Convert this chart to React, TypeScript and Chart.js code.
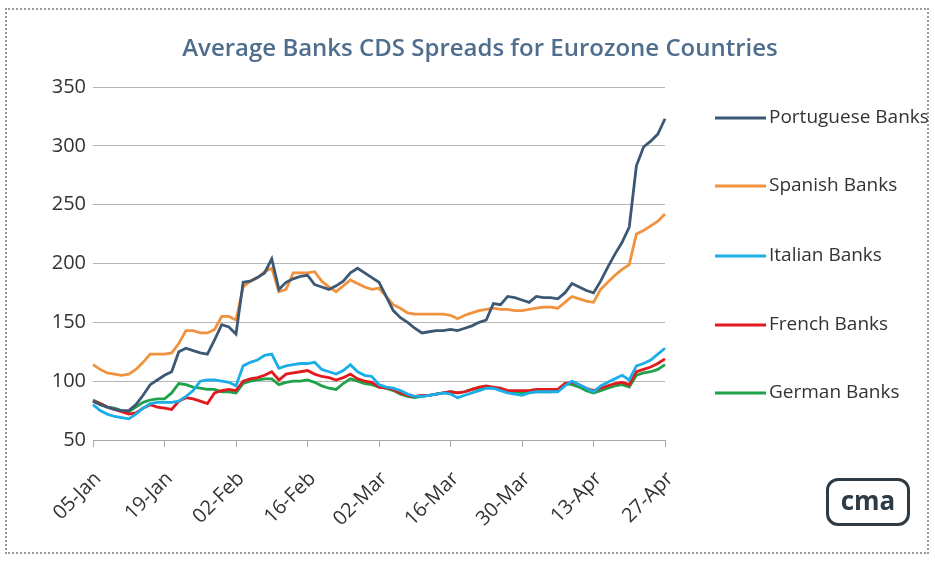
import React, { useEffect, useRef } from "react";
import { Chart, registerables } from "chart.js";

Chart.register(...registerables);

const TITLE = "Average Banks CDS Spreads for Eurozone Countries";
const SERIES_NAMES = ["Portuguese Banks", "Spanish Banks", "Italian Banks", "French Banks", "German Banks"];
const SERIES_COLORS = ["#3d5875", "#f0923e", "#1aaee8", "#e2191e", "#1fa24a"];
const TICK_LABELS = ["05-Jan", "19-Jan", "02-Feb", "16-Feb", "02-Mar", "16-Mar", "30-Mar", "13-Apr", "27-Apr"];
const Y_MIN = 50;
const Y_MAX = 350;
const Y_STEP = 50;

const PORTUGUESE = [
  83, 80, 78, 76, 75, 75, 80, 88, 97, 101,
  105, 108, 125, 128, 126, 124, 123, 135, 148, 146,
  140, 184, 185, 188, 192, 204, 178, 184, 187, 189,
  190, 182, 180, 178, 181, 185, 192, 196, 192, 188,
  184, 172, 160, 154, 150, 145, 141, 142, 143, 143,
  144, 143, 145, 147, 150, 152, 166, 165, 172, 171,
  169, 167, 172, 171, 171, 170, 175, 183, 180, 177,
  175, 185, 197, 208, 218, 231, 283, 299, 304, 310,
  323,
];
const SPANISH = [
  114, 110, 107, 106, 105, 106, 110, 116, 123, 123,
  123, 124, 132, 143, 143, 141, 141, 144, 155, 155,
  152, 180, 185, 188, 193, 196, 176, 178, 192, 192,
  192, 193, 185, 180, 176, 181, 186, 183, 180, 178,
  179, 172, 165, 162, 158, 157, 157, 157, 157, 157,
  156, 153, 156, 158, 160, 161, 162, 161, 161, 160,
  160, 161, 162, 163, 163, 162, 167, 172, 170, 168,
  167, 178, 184, 190, 195, 199, 225, 228, 232, 236,
  242,
];
const ITALIAN = [
  80, 75, 72, 70, 69, 68, 72, 77, 81, 82,
  82, 82, 83, 87, 92, 100, 101, 101, 100, 99,
  96, 113, 116, 118, 122, 123, 111, 113, 114, 115,
  115, 116, 110, 108, 106, 109, 114, 108, 105, 104,
  97, 95, 94, 92, 89, 87, 87, 88, 89, 90,
  89, 86, 88, 90, 92, 94, 94, 92, 90, 89,
  88, 90, 91, 91, 91, 91, 96, 100, 97, 94,
  91, 96, 99, 102, 105, 101, 113, 115, 118, 123,
  128,
];
const FRENCH = [
  83, 81, 78, 76, 74, 72, 73, 77, 80, 78,
  77, 76, 83, 86, 85, 83, 81, 90, 92, 93,
  92, 100, 102, 103, 105, 108, 101, 106, 107, 108,
  109, 106, 104, 103, 101, 103, 106, 102, 100, 99,
  95, 94, 93, 90, 88, 87, 88, 88, 89, 90,
  91, 90, 91, 93, 95, 96, 95, 94, 92, 92,
  92, 92, 93, 93, 93, 93, 98, 99, 97, 94,
  92, 94, 96, 98, 99, 97, 108, 110, 112, 115,
  119,
];
const GERMAN = [
  84, 81, 78, 77, 75, 74, 78, 82, 84, 85,
  85, 90, 98, 97, 95, 94, 93, 93, 91, 91,
  90, 98, 100, 101, 102, 102, 97, 99, 100, 100,
  101, 99, 96, 94, 93, 98, 102, 100, 98, 97,
  95, 94, 92, 89, 87, 86, 87, 88, 89, 90,
  91, 90, 91, 93, 94, 95, 94, 93, 91, 91,
  90, 91, 91, 91, 91, 92, 98, 97, 95, 92,
  90, 92, 94, 96, 97, 95, 105, 107, 108, 110,
  114,
];
const SERIES_VALUES = [PORTUGUESE, SPANISH, ITALIAN, FRENCH, GERMAN];

// Business days (Mon-Fri) from 05-Jan to 27-Apr
const MONTHS = ["Jan", "Feb", "Mar", "Apr", "May", "Jun", "Jul", "Aug", "Sep", "Oct", "Nov", "Dec"];
function buildCategories(): string[] {
  const out: string[] = [];
  const d = new Date(2009, 0, 5);
  const end = new Date(2009, 3, 27);
  while (d <= end) {
    const wd = d.getDay();
    if (wd !== 0 && wd !== 6) {
      out.push(String(d.getDate()).padStart(2, "0") + "-" + MONTHS[d.getMonth()]);
    }
    d.setDate(d.getDate() + 1);
  }
  return out;
}
const CATEGORIES = buildCategories();

const FONT = "'Open Sans', 'DejaVu Sans', sans-serif";

const overlayPlugin = {
  id: "overlayText",
  afterDraw(chart: any) {
    const ctx = chart.ctx;
    ctx.save();
    ctx.fillStyle = "#4f6d8d";
    ctx.font = `600 24px ${FONT}`;
    ctx.textAlign = "center";
    ctx.textBaseline = "middle";
    ctx.fillText(TITLE, 480, 49);

    const ys = [118, 186, 256, 325, 393];
    chart.data.datasets.forEach((ds: any, i: number) => {
      const y = ys[i];
      ctx.strokeStyle = ds.borderColor;
      ctx.lineWidth = 3;
      ctx.beginPath();
      ctx.moveTo(715, y);
      ctx.lineTo(766, y);
      ctx.stroke();
      ctx.fillStyle = "#333333";
      ctx.font = `19px ${FONT}`;
      ctx.textAlign = "left";
      ctx.textBaseline = "middle";
      ctx.fillText(ds.label, 769, y);
    });
    ctx.restore();
  },
};

export default function App() {
  const canvasRef = useRef<HTMLCanvasElement | null>(null);

  useEffect(() => {
    if (!canvasRef.current) return;
    const chart = new Chart(canvasRef.current, {
      type: "line",
      data: {
        labels: CATEGORIES,
        datasets: SERIES_NAMES.map((name, i) => ({
          label: name,
          data: SERIES_VALUES[i],
          borderColor: SERIES_COLORS[i],
          backgroundColor: SERIES_COLORS[i],
          borderWidth: 2.8,
          pointRadius: 0,
          tension: 0,
          fill: false,
        })),
      },
      options: {
        responsive: false,
        animation: false,
        layout: { padding: { left: 6, right: 270, top: 87, bottom: 0 } },
        plugins: {
          legend: { display: false },
          title: { display: false },
          tooltip: { enabled: false },
        },
        scales: {
          x: {
            type: "category",
            offset: false,
            grid: {
              drawOnChartArea: false,
              drawTicks: true,
              tickLength: 7,
              color: "#a8a8a8",
            },
            border: { display: true, color: "#a8a8a8", width: 1 },
            ticks: {
              autoSkip: false,
              maxRotation: 45,
              minRotation: 45,
              padding: 20,
              labelOffset: 5,
              color: "#333333",
              font: { family: FONT, size: 20 },
              callback: (_v: any, index: number) => {
                const lab = CATEGORIES[index];
                return TICK_LABELS.includes(lab) ? lab : null;
              },
            },
            afterFit: (scale: any) => {
              scale.height = 122;
            },
          },
          y: {
            min: Y_MIN,
            max: Y_MAX,
            ticks: {
              stepSize: Y_STEP,
              padding: 7,
              color: "#333333",
              font: { family: FONT, size: 20 },
            },
            grid: { color: "#b4b4b4", lineWidth: 1, drawTicks: false },
            border: { display: false },
            afterFit: (scale: any) => {
              scale.width = 87;
            },
          },
        },
      },
      plugins: [overlayPlugin],
    });
    return () => chart.destroy();
  }, []);

  return (
    <div style={{ position: "fixed", left: 0, top: 0, width: 935, height: 562, background: "#ffffff", overflow: "hidden" }}>
      <div
        style={{
          position: "absolute",
          left: 5,
          top: 8,
          width: 924,
          height: 546,
          border: "2px dotted #9a9a9a",
          boxSizing: "border-box",
        }}
      />
      <canvas ref={canvasRef} width={935} height={562} style={{ position: "absolute", left: 0, top: 0 }} />
      <div
        style={{
          position: "absolute",
          left: 826,
          top: 478,
          width: 84,
          height: 48,
          border: "3px solid #2f3b44",
          borderRadius: 12,
          boxSizing: "border-box",
          display: "flex",
          alignItems: "center",
          justifyContent: "center",
          color: "#2f3b44",
          fontFamily: FONT,
          fontWeight: 700,
          fontSize: 26,
          lineHeight: "26px",
          paddingBottom: 4,
        }}
      >
        cma
      </div>
    </div>
  );
}
